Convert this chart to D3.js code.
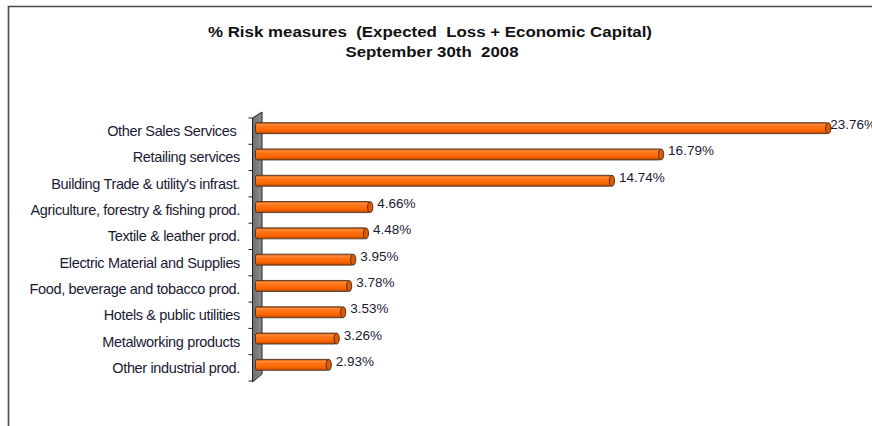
<!DOCTYPE html>
<html>
<head>
<meta charset="utf-8">
<script src="https://cdn.jsdelivr.net/npm/d3@7/dist/d3.min.js"></script>
<style>
  html, body { margin: 0; padding: 0; background: #fff; }
  svg { display: block; }
  text { font-family: "Liberation Sans", Arial, sans-serif; white-space: pre; }
</style>
</head>
<body>
<script>
// Sector shares of risk measures (Expected Loss + Economic Capital), in %
const categories = [
  "Other Sales Services ",
  "Retailing services",
  "Building Trade & utility's infrast.",
  "Agriculture, forestry & fishing prod.",
  "Textile & leather prod.",
  "Electric Material and Supplies",
  "Food, beverage and tobacco prod.",
  "Hotels & public utilities",
  "Metalworking products",
  "Other industrial prod."
];
const values = [23.76, 16.79, 14.74, 4.66, 4.48, 3.95, 3.78, 3.53, 3.26, 2.93];
const valueLabels = ["23.76%", "16.79%", "14.74%", "4.66%", "4.48%", "3.95%", "3.78%", "3.53%", "3.26%", "2.93%"];
const titleLines = ["% Risk measures  (Expected  Loss + Economic Capital)", "September 30th  2008"];

const W = 872, H = 426;
const svg = d3.select("body").append("svg").attr("width", W).attr("height", H);

// outer chart frame (only top and left edges fall inside the view)
svg.append("path")
  .attr("d", `M8.5,${H} L8.5,6.5 L${W},6.5`)
  .attr("fill", "none").attr("stroke", "#4a4a4a").attr("stroke-width", 1.6);

// title
const title = svg.append("g").attr("font-weight", "bold").attr("font-size", 14.5).attr("fill", "#111");
title.append("text").attr("x", 430).attr("y", 37).attr("text-anchor", "middle")
  .attr("textLength", 444).attr("lengthAdjust", "spacingAndGlyphs").text(titleLines[0]);
title.append("text").attr("x", 432).attr("y", 57).attr("text-anchor", "middle")
  .attr("textLength", 173).attr("lengthAdjust", "spacingAndGlyphs").text(titleLines[1]);

// scales
const x = d3.scaleLinear().domain([0, 25]).range([258.5, 858]);
const y = d3.scaleBand().domain(categories).range([118, 381]).padding(0);
const depth = 3; // 3D shift of the bars relative to the wall
const barH = 11;

// gradients for cylinder bars
const defs = svg.append("defs");
const g = defs.append("linearGradient").attr("id", "cyl").attr("x1", 0).attr("y1", 0).attr("x2", 0).attr("y2", 1);
[[0, "#c45200"], [0.18, "#ff8a3a"], [0.35, "#ff7418"], [0.7, "#ff6600"], [1, "#b84a00"]]
  .forEach(([o, c]) => g.append("stop").attr("offset", o).attr("stop-color", c));
const wg = defs.append("linearGradient").attr("id", "wall").attr("x1", 0).attr("y1", 0).attr("x2", 1).attr("y2", 0);
[[0, "#6e6e6e"], [1, "#8c8c8c"]].forEach(([o, c]) => wg.append("stop").attr("offset", o).attr("stop-color", c));

// 3D side wall
const wl = 252.5, wr = 262;
svg.append("path")
  .attr("d", `M${wl},${y.range()[0]} L${wr},112 L${wr},${y.range()[1] - 7} L${wl},${y.range()[1] + 1} Z`)
  .attr("fill", "url(#wall)").attr("stroke", "#222").attr("stroke-width", 1);

// category axis ticks
svg.append("g").selectAll("line")
  .data(d3.range(categories.length + 1))
  .join("line")
  .attr("x1", wl - 4).attr("x2", wl)
  .attr("y1", i => y.range()[0] + i * y.step()).attr("y2", i => y.range()[0] + i * y.step())
  .attr("stroke", "#222").attr("stroke-width", 1);

// category labels
svg.append("g").selectAll("text")
  .data(categories)
  .join("text")
  .attr("x", 240).attr("y", d => y(d) + y.bandwidth() / 2 + 5)
  .attr("text-anchor", "end").attr("font-size", 14.5).attr("fill", "#1a1a33")
  .attr("letter-spacing", -0.35)
  .text(d => d);

// bars
const bars = svg.append("g").selectAll("g")
  .data(categories.map((c, i) => ({ c, v: values[i], l: valueLabels[i] })))
  .join("g");

const cy = d => y(d.c) + y.bandwidth() / 2 - depth;

bars.append("rect")
  .attr("x", x(0) - 3).attr("y", d => cy(d) - barH / 2)
  .attr("width", d => x(d.v) - x(0) + 3).attr("height", barH)
  .attr("rx", 2).attr("fill", "url(#cyl)")
  .attr("stroke", "#3a2a20").attr("stroke-width", 0.8);

bars.append("ellipse")
  .attr("cx", d => x(d.v)).attr("cy", d => cy(d))
  .attr("rx", 2.6).attr("ry", barH / 2)
  .attr("fill", "#e05a00").attr("stroke", "#3a2a20").attr("stroke-width", 0.9);

// value labels
bars.append("text")
  .attr("x", d => x(d.v) + (d.v > 20 ? 2 : 7)).attr("y", d => cy(d) + 1)
  .attr("font-size", 13.5).attr("fill", "#1a1a33")
  .text(d => d.l);
</script>
</body>
</html>
